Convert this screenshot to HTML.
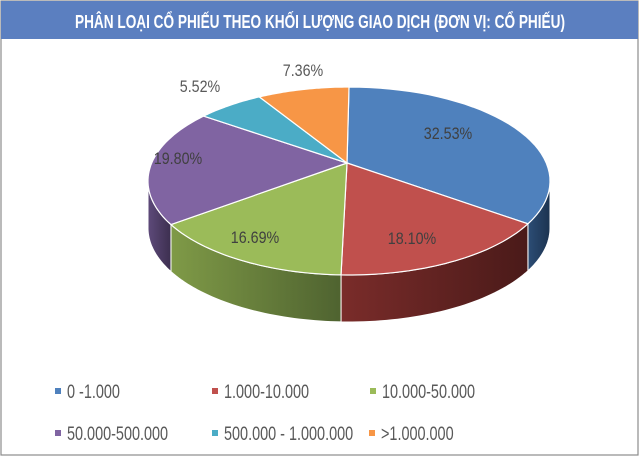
<!DOCTYPE html>
<html><head><meta charset="utf-8"><style>
body{margin:0;background:#fff;width:640px;height:457px;overflow:hidden;font-family:"Liberation Sans",sans-serif}
#wrap{position:absolute;left:0;top:0;width:640px;height:457px}
</style></head><body>
<div id="wrap">
<svg id="svg" width="640" height="457" viewBox="0 0 640 457">
<defs id="defs"></defs>
<rect x="1" y="1" width="637" height="454" fill="#fff" stroke="#8c8c8c" stroke-width="1.2"/>
<rect x="1" y="1" width="637" height="38" fill="#5b7fc0"/>
<text x="320" y="28" text-anchor="middle" fill="#fff" font-size="18" font-weight="bold" font-family="'Liberation Sans Narrow','Liberation Sans',sans-serif" textLength="490" lengthAdjust="spacingAndGlyphs">PHÂN LOẠI CỔ PHIẾU THEO KHỐI LƯỢNG GIAO DỊCH (ĐƠN VỊ: CỔ PHIẾU)</text>
<g id="sides"></g><g id="tops"></g><g id="labels"></g><g id="legend"></g>
</svg></div>
<script>
const categories=["0 -1.000","1.000-10.000","10.000-50.000","50.000-500.000","500.000 - 1.000.000",">1.000.000"];
const values=[32.53,18.10,16.69,19.80,5.52,7.36];
const valueLabels=["32.53%","18.10%","16.69%","19.80%","5.52%","7.36%"];
const colors=["#4f81bd","#c0504d","#9bbb59","#8064a2","#4bacc6","#f79646"];
const sideA=["#2c4d75","#7a2c2a","#7f9a47","#5e4a7a","#2f7f94","#b86c2f"];
const sideB=["#1c3350","#4a1a19","#4f6330","#3c2f4f","#1f5563","#7a4620"];
const NS="http://www.w3.org/2000/svg";
const cx=349,cy=181,rx=201,ry=94,depth=47,ax=347,ay=163;
function pt(t){const r=t*Math.PI/180;return [cx+rx*Math.sin(r),cy-ry*Math.cos(r)];}
function mk(tag,attrs,parent){const e=document.createElementNS(NS,tag);for(const k in attrs)e.setAttribute(k,attrs[k]);parent.appendChild(e);return e;}
const total=values.reduce((a,b)=>a+b,0);
const defs=document.getElementById('defs'),sides=document.getElementById('sides'),tops=document.getElementById('tops'),labels=document.getElementById('labels'),legend=document.getElementById('legend');
let a=0;const angles=[];
values.forEach((v,i)=>{const s=a,e=a+v/total*360;angles.push([s,e]);a=e;});
angles.forEach(([s,e],i)=>{
  const g=mk('linearGradient',{id:'g'+i,x1:'0',x2:'1',y1:'0',y2:'0'},defs);
  mk('stop',{offset:'0','stop-color':sideA[i]},g);mk('stop',{offset:'1','stop-color':sideB[i]},g);
  const lo=Math.max(s,90),hi=Math.min(e,270);
  if(hi>lo){
    let top=[],bot=[];
    for(let t=lo;t<=hi+0.001;t+=(hi-lo)/40){const p=pt(t);top.push(p);bot.push([p[0],p[1]+depth]);}
    const pts=top.concat(bot.reverse()).map(p=>p.join(',')).join(' ');
    const el=mk('polygon',{points:pts,fill:'url(#g'+i+')',stroke:'#fff','stroke-width':'1'},sides);
    
    
  }
  let d='M'+ax+','+ay;
  for(let t=s;t<=e+0.001;t+=(e-s)/40){const p=pt(t);d+=' L'+p[0].toFixed(1)+','+p[1].toFixed(1);}
  d+=' Z';
  const el=mk('path',{d:d,fill:colors[i],stroke:'#fff','stroke-width':'1.2'},tops);
  
  
});
const labelPos=[[448,139],[412,244],[255,243],[178,164],[200,92],[303,76]];
valueLabels.forEach((t,i)=>{
  const outside=i>=4;
  const g=mk('g',{transform:'translate('+labelPos[i][0]+','+labelPos[i][1]+') scale(0.84,1)'},labels);
  const el=mk('text',{x:0,y:0,'text-anchor':'middle','font-size':'17',fill:outside?'#595959':'#404040'},g);
  el.textContent=t;
  
  
});
const legPos=[[58,391],[215,391],[373,391],[58,433],[215,433],[372,433]];
categories.forEach((c,i)=>{
  const g=mk('g',{},legend);
  
  
  mk('rect',{x:legPos[i][0]-3,y:legPos[i][1]-3,width:6,height:6,fill:colors[i]},g);
  const tg=mk('g',{transform:'translate('+(legPos[i][0]+9)+','+(legPos[i][1]+7)+') scale(0.76,1)'},g);
  const t=mk('text',{x:0,y:0,'font-size':'19',fill:'#595959'},tg);
  t.textContent=c;
});
</script>
</body></html>
